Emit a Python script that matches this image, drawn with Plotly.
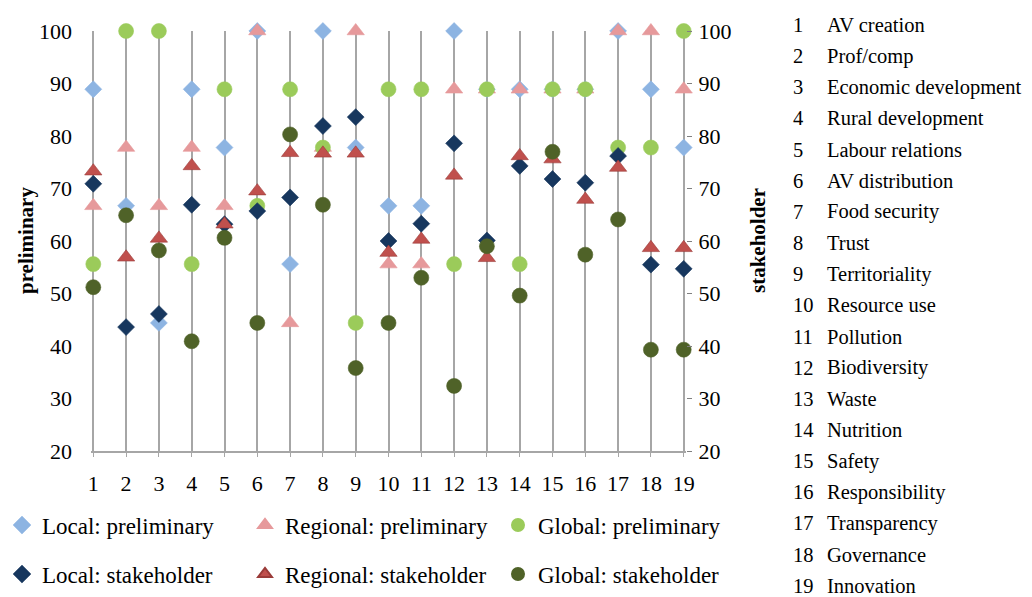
import plotly.graph_objects as go

x_vals = list(range(1, 20))
categories = ["AV creation", "Prof/comp", "Economic development", "Rural development",
              "Labour relations", "AV distribution", "Food security", "Trust",
              "Territoriality", "Resource use", "Pollution", "Biodiversity", "Waste",
              "Nutrition", "Safety", "Responsibility", "Transparency", "Governance",
              "Innovation"]

local_prelim    = [88.9, 66.7, 44.4, 88.9, 77.8, 100, 55.6, 100, 77.8, 66.7, 66.7, 100, 88.9, 88.9, 88.9, 88.9, 100, 88.9, 77.8]
regional_prelim = [66.7, 77.8, 66.7, 77.8, 66.7, 100, 44.4, 77.8, 100, 55.6, 55.6, 88.9, 88.9, 88.9, 88.9, 88.9, 100, 100, 88.9]
global_prelim   = [55.6, 100, 100, 55.6, 88.9, 66.7, 88.9, 77.8, 44.4, 88.9, 88.9, 55.6, 88.9, 55.6, 88.9, 88.9, 77.8, 77.8, 100]
local_stake     = [70.9, 43.6, 46.1, 66.9, 63.2, 65.7, 68.3, 81.9, 83.6, 60.0, 63.3, 78.6, 60.1, 74.3, 71.8, 71.1, 76.2, 55.5, 54.7]
regional_stake  = [73.3, 56.9, 60.5, 74.3, 63.2, 69.5, 76.8, 76.7, 76.7, 57.8, 60.3, 72.5, 56.8, 76.2, 75.6, 67.9, 74.0, 58.7, 58.7]
global_stake    = [51.2, 64.9, 58.2, 40.9, 60.6, 44.4, 80.3, 66.9, 35.8, 44.4, 53.0, 32.4, 59.0, 49.6, 77.0, 57.4, 64.1, 39.3, 39.3]

FONT = "Times New Roman, Liberation Serif, serif"

series = [
    ("Local: preliminary", local_prelim, "diamond", "#8DB4E2", 13, "y"),
    ("Regional: preliminary", regional_prelim, "triangle-up", "#E6999B", 15, "y"),
    ("Global: preliminary", global_prelim, "circle", "#9BCB5A", 15, "y"),
    ("Local: stakeholder", local_stake, "diamond", "#17375E", 13, "y2"),
    ("Regional: stakeholder", regional_stake, "triangle-up", "#C0504D", 15, "y2"),
    ("Global: stakeholder", global_stake, "circle", "#4F6228", 15, "y2"),
]

# the page body has an 8 px margin: work in page pixels and convert
OFF = 8
FIG_W, FIG_H = 1032 - OFF, 597 - OFF
L, R, T, B = 91 - OFF, 686 - OFF, 31 - OFF, 451 - OFF
W, H = R - L, B - T


def px_x(page_x):
    return (page_x - OFF - L) / W


def px_y(page_y):
    return (B - (page_y - OFF)) / H


legend_left_px = [2, 245, 498, 2, 245, 498]
legend_row_px = [525, 525, 525, 574, 574, 574]

fig = go.Figure()
legend_layout = {}
for i, (name, vals, sym, col, sz, yax) in enumerate(series):
    lg = "legend" if i == 0 else f"legend{i + 1}"
    line_col = "#9A3B39" if col == "#C0504D" else col
    fig.add_trace(go.Scatter(
        x=x_vals, y=vals, mode="markers", name=name, yaxis=yax, legend=lg,
        cliponaxis=False,
        marker=dict(symbol=sym, color=col, size=sz, line=dict(width=0.6, color=line_col)),
    ))
    legend_layout[lg] = dict(
        orientation="h", x=px_x(legend_left_px[i]), xanchor="left",
        y=px_y(legend_row_px[i]), yanchor="middle",
        font=dict(family=FONT, size=23), bgcolor="rgba(0,0,0,0)",
        itemsizing="constant")

fig.update_layout(
    width=FIG_W, height=FIG_H,
    margin=dict(l=L, r=FIG_W - R, t=T, b=FIG_H - B, autoexpand=False),
    plot_bgcolor="white", paper_bgcolor="white",
    font=dict(family=FONT, size=22, color="black"),
    xaxis=dict(range=[0.93, 19.07], tickmode="array", tickvals=x_vals,
               ticktext=[str(v) for v in x_vals],
               showgrid=True, gridcolor="#A6A6A6", gridwidth=1.5,
               showline=True, linecolor="#A6A6A6", linewidth=1.5,
               ticks="outside", ticklen=4, tickcolor="#A6A6A6",
               zeroline=False, tickfont=dict(size=22), ticklabelstandoff=8),
    yaxis=dict(range=[20, 100], dtick=10, showgrid=False, zeroline=False,
               showline=False, ticks="", ticklabelstandoff=18,
               tickfont=dict(size=22)),
    yaxis2=dict(range=[20, 100], dtick=10, overlaying="y", side="right",
                showgrid=False, zeroline=False, showline=False,
                ticks="outside", ticklen=5, tickcolor="#808080",
                tickfont=dict(size=22), ticklabelstandoff=2),
    showlegend=True,
    **legend_layout,
)

annotations = [
    dict(text="<b>preliminary</b>", textangle=-90, xref="paper", yref="paper",
         x=px_x(26), y=0.5, showarrow=False, font=dict(size=21, family=FONT),
         xanchor="center", yanchor="middle"),
    dict(text="<b>stakeholder</b>", textangle=-90, xref="paper", yref="paper",
         x=px_x(758), y=0.5, showarrow=False, font=dict(size=21, family=FONT),
         xanchor="center", yanchor="middle"),
]
for i, (num, cat) in enumerate(zip(x_vals, categories)):
    ypx = 25 + 31.15 * i
    annotations.append(dict(text=str(num), xref="paper", yref="paper",
                            x=px_x(791), y=px_y(ypx), showarrow=False,
                            xanchor="left", yanchor="middle",
                            font=dict(size=20.5, family=FONT)))
    annotations.append(dict(text=cat, xref="paper", yref="paper",
                            x=px_x(825), y=px_y(ypx), showarrow=False,
                            xanchor="left", yanchor="middle",
                            font=dict(size=20.5, family=FONT)))
fig.update_layout(annotations=annotations)

fig.write_html("out.html")
